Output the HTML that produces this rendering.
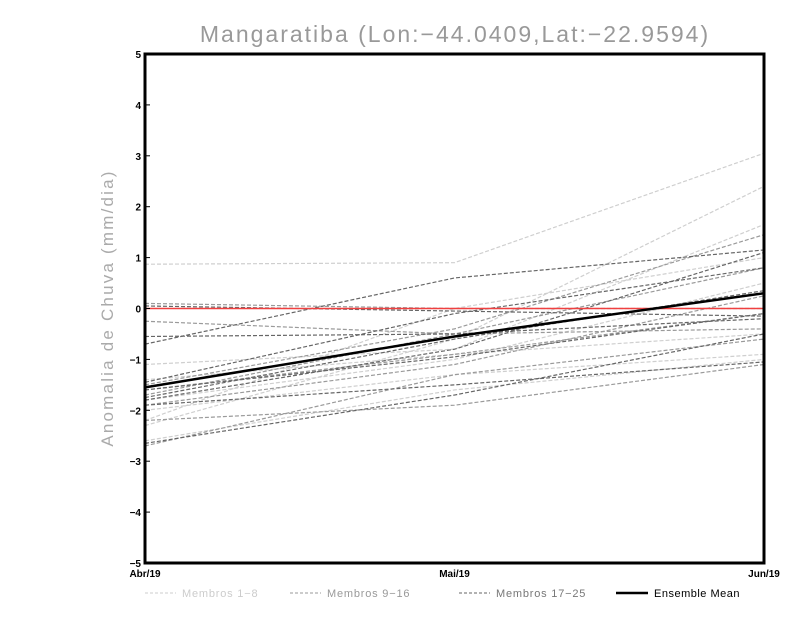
<!DOCTYPE html>
<html><head><meta charset="utf-8"><style>
html,body{margin:0;padding:0;background:#fff;width:800px;height:618px;overflow:hidden}
svg text{font-family:"Liberation Sans",sans-serif}
</style></head><body>
<svg id="chart" width="800" height="618" xmlns="http://www.w3.org/2000/svg">
<text x="455" y="42" text-anchor="middle" font-size="23" fill="#999" letter-spacing="2">Mangaratiba (Lon:−44.0409,Lat:−22.9594)</text>
<text transform="translate(113,308) rotate(-90)" text-anchor="middle" font-size="17" fill="#aaa" letter-spacing="2.2">Anomalia de Chuva (mm/dia)</text>
<g id="members"></g>
<line x1="145" x2="764" y1="308.5" y2="308.5" stroke="#f04040" stroke-width="1.5"/>
<polyline id="mean" fill="none" stroke="#000" stroke-width="2.5"/>
<rect x="145" y="54" width="619" height="509" fill="none" stroke="#000" stroke-width="3"/>
<g id="yticks"></g>
<g id="xticks"></g>
<g font-size="11">
<g><line x1="145" x2="176" y1="593" y2="593" stroke="#ccc" stroke-dasharray="3,2"/><text x="182" y="597" fill="#ccc" letter-spacing="0.8">Membros 1−8</text></g>
<g><line x1="290" x2="321" y1="593" y2="593" stroke="#999" stroke-dasharray="3,2"/><text x="327" y="597" fill="#999" letter-spacing="0.8">Membros 9−16</text></g>
<g><line x1="459" x2="490" y1="593" y2="593" stroke="#666" stroke-dasharray="3,2"/><text x="496" y="597" fill="#777" letter-spacing="0.8">Membros 17−25</text></g>
<g><line x1="616" x2="648" y1="593" y2="593" stroke="#000" stroke-width="2.5"/><text x="654" y="597" fill="#000" letter-spacing="0.5">Ensemble Mean</text></g>
</g>
</svg>
<script>
const categories=["Abr/19","Mai/19","Jun/19"];
const yTickLabels=[-5,-4,-3,-2,-1,0,1,2,3,4,5];
const membersLight=[[0.87,0.9,3.05],[-2.3,-0.6,2.4],[-1.1,-0.8,1.65],[-2.2,0.0,1.0],[-1.4,-0.9,-0.5],[-2.0,-1.3,-0.9],[-2.6,-1.6,-1.0],[-1.8,-1.0,0.5]];
const membersMid=[[0.1,0.0,0.0],[-0.25,-0.5,-0.4],[-1.5,-0.4,1.45],[-1.7,-0.5,0.8],[-1.9,-1.1,0.25],[-2.2,-1.9,-1.1],[-1.6,-0.9,-0.1],[-2.7,-1.3,-0.6]];
const membersDark=[[-0.55,-0.5,-0.2],[-0.7,0.6,1.15],[-1.45,-0.1,0.8],[-1.75,-0.6,0.35],[-1.9,-1.5,-1.05],[-2.65,-1.7,-0.5],[0.05,-0.05,-0.15],[-1.6,-0.95,-0.1],[-1.8,-0.8,1.1]];
const ensembleMean=[-1.55,-0.55,0.3];
const NS="http://www.w3.org/2000/svg";
function xs(i){return 145+i*(619/(categories.length-1));}
function ys(v){return 308.5-v*50.9;}
function pts(a){return a.map((v,i)=>xs(i)+","+ys(v)).join(" ");}
const g=document.getElementById("members");
function draw(set,color,name){set.forEach((m,k)=>{const p=document.createElementNS(NS,"polyline");
p.setAttribute("points",pts(m));p.setAttribute("fill","none");p.setAttribute("stroke",color);p.setAttribute("stroke-width","1.2");p.setAttribute("stroke-dasharray","4,2");


g.appendChild(p);});}
draw(membersLight,"#cfcfcf","member-light");
draw(membersMid,"#9a9a9a","member-mid");
draw(membersDark,"#666","member-dark");
document.getElementById("mean").setAttribute("points",pts(ensembleMean));
const yt=document.getElementById("yticks");
yTickLabels.forEach(v=>{const t=document.createElementNS(NS,"text");
t.setAttribute("x",141);t.setAttribute("y",ys(v)+4);t.setAttribute("text-anchor","end");t.setAttribute("font-size","10");t.setAttribute("font-weight","bold");t.textContent=v<0?"−"+(-v):v;


yt.appendChild(t);
const l=document.createElementNS(NS,"line");l.setAttribute("x1",145);l.setAttribute("x2",150);l.setAttribute("y1",ys(v));l.setAttribute("y2",ys(v));l.setAttribute("stroke","#000");


yt.appendChild(l);});
const xt=document.getElementById("xticks");
categories.forEach((c,i)=>{const t=document.createElementNS(NS,"text");
t.setAttribute("x",xs(i));t.setAttribute("y",577);t.setAttribute("text-anchor","middle");t.setAttribute("font-size","10");t.setAttribute("font-weight","bold");t.textContent=c;


xt.appendChild(t);});
</script>
</body></html>
